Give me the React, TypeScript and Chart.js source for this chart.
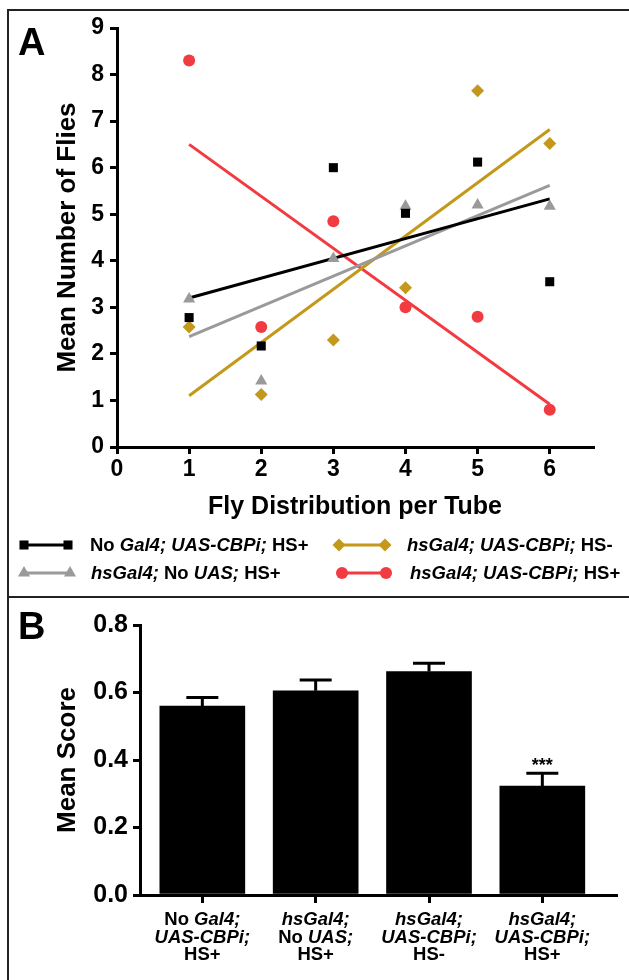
import React, { useEffect, useRef } from "react";
import { Chart, registerables } from "chart.js";

Chart.register(...registerables);

const FONT = '"Liberation Sans", Arial, Helvetica, sans-serif';
const BLACK = "#000000";
const GRAY = "#9a9a9a";
const GOLD = "#c4981b";
const RED = "#f23a41";

// ---------- Panel A data ----------
const tubePositions = [1, 2, 3, 4, 5, 6];
const noGal4Means = [2.78, 2.17, 6.0, 5.02, 6.12, 3.55];
const noUasMeans = [3.18, 1.42, 4.05, 5.17, 5.2, 5.17];
const hsMinusMeans = [2.58, 1.13, 2.3, 3.42, 7.65, 6.52];
const hsPlusMeans = [8.3, 2.58, 4.85, 3.0, 2.8, 0.8];
const fitPositions = [1, 6];
const noGal4Fit = [3.2, 5.33];
const noUasFit = [2.37, 5.62];
const hsMinusFit = [1.1, 6.82];
const hsPlusFit = [6.5, 0.92];
const xTicksA = [0, 1, 2, 3, 4, 5, 6];
const yTicksA = [0, 1, 2, 3, 4, 5, 6, 7, 8, 9];

type Seg = [string, boolean];
const legendNoGal4: Seg[] = [["No ", false], ["Gal4; UAS-CBPi;", true], [" HS+", false]];
const legendNoUas: Seg[] = [["hsGal4;", true], [" No ", false], ["UAS;", true], [" HS+", false]];
const legendHsMinus: Seg[] = [["hsGal4; UAS-CBPi;", true], [" HS-", false]];
const legendHsPlus: Seg[] = [["hsGal4; UAS-CBPi;", true], [" HS+", false]];

// ---------- Panel B data ----------
const barPositions = [0, 1, 2, 3];
const barMeans = [0.56, 0.605, 0.662, 0.323];
const barSems = [0.025, 0.032, 0.025, 0.038];
const yTicksB = [0, 0.2, 0.4, 0.6, 0.8];
const barCategories: Seg[][][] = [
  [[["No ", false], ["Gal4;", true]], [["UAS-CBPi;", true]], [["HS+", false]]],
  [[["hsGal4;", true]], [["No ", false], ["UAS;", true]], [["HS+", false]]],
  [[["hsGal4;", true]], [["UAS-CBPi;", true]], [["HS-", false]]],
  [[["hsGal4;", true]], [["UAS-CBPi;", true]], [["HS+", false]]],
];
const significance = ["", "", "", "***"];

const seriesA = [
  { values: noGal4Means, fit: noGal4Fit, color: BLACK, style: "rect", radius: 6.4, legend: legendNoGal4 },
  { values: noUasMeans, fit: noUasFit, color: GRAY, style: "triangle", radius: 7, legend: legendNoUas },
  { values: hsMinusMeans, fit: hsMinusFit, color: GOLD, style: "rectRot", radius: 6.5, legend: legendHsMinus },
  { values: hsPlusMeans, fit: hsPlusFit, color: RED, style: "circle", radius: 6, legend: legendHsPlus },
];

const legendLayout = [
  { x1: 24, x2: 68, tx: 90, y: 545 },
  { x1: 24, x2: 70, tx: 91, y: 573 },
  { x1: 339, x2: 385, tx: 407, y: 545 },
  { x1: 342, x2: 386, tx: 410, y: 573 },
];

function drawRich(ctx: CanvasRenderingContext2D, segs: Seg[], x: number, y: number, size: number, align: "left" | "center") {
  const fontOf = (it: boolean) => `${it ? "italic " : ""}bold ${size}px ${FONT}`;
  let total = 0;
  for (const [t, it] of segs) {
    ctx.font = fontOf(it);
    total += ctx.measureText(t).width;
  }
  let cx = align === "center" ? x - total / 2 : x;
  ctx.textAlign = "left";
  ctx.textBaseline = "alphabetic";
  for (const [t, it] of segs) {
    ctx.font = fontOf(it);
    ctx.fillText(t, cx, y);
    cx += ctx.measureText(t).width;
  }
}

function drawMarker(ctx: CanvasRenderingContext2D, style: string, x: number, y: number, r: number, color: string) {
  ctx.fillStyle = color;
  ctx.beginPath();
  if (style === "rect") {
    const s = r * Math.SQRT1_2;
    ctx.rect(x - s, y - s, 2 * s, 2 * s);
  } else if (style === "circle") {
    ctx.arc(x, y, r, 0, Math.PI * 2);
  } else if (style === "triangle") {
    let a = 0;
    ctx.moveTo(x + Math.sin(a) * r, y - Math.cos(a) * r);
    a += (Math.PI * 2) / 3;
    ctx.lineTo(x + Math.sin(a) * r, y - Math.cos(a) * r);
    a += (Math.PI * 2) / 3;
    ctx.lineTo(x + Math.sin(a) * r, y - Math.cos(a) * r);
    ctx.closePath();
  } else if (style === "rectRot") {
    ctx.moveTo(x, y - r);
    ctx.lineTo(x + r, y);
    ctx.lineTo(x, y + r);
    ctx.lineTo(x - r, y);
    ctx.closePath();
  }
  ctx.fill();
}

const axisGrid = {
  display: true,
  drawOnChartArea: false,
  drawTicks: true,
  offset: false,
  tickLength: 7,
  lineWidth: 3,
  color: BLACK,
};
const axisBorder = { display: true, width: 3, color: BLACK };
const tickFontA = { family: FONT, size: 23, weight: "bold" as const };
const tickFontB = { family: FONT, size: 25, weight: "bold" as const };

const panelAPlugin = {
  id: "panelA",
  afterDraw(chart: any) {
    const ctx: CanvasRenderingContext2D = chart.ctx;
    const area = chart.chartArea;
    ctx.save();
    ctx.fillStyle = BLACK;
    ctx.font = `bold 38px ${FONT}`;
    ctx.textAlign = "left";
    ctx.textBaseline = "alphabetic";
    ctx.fillText("A", 18, 55);

    ctx.font = `bold 26px ${FONT}`;
    ctx.save();
    ctx.translate(75, (area.top + area.bottom) / 2);
    ctx.rotate(-Math.PI / 2);
    ctx.textAlign = "center";
    ctx.fillText("Mean Number of Flies", 0, 0);
    ctx.restore();

    ctx.font = `bold 25px ${FONT}`;
    ctx.textAlign = "center";
    ctx.fillText("Fly Distribution per Tube", (area.left + area.right) / 2, 514);

    seriesA.forEach((s, i) => {
      const L = legendLayout[i];
      ctx.strokeStyle = s.color;
      ctx.lineWidth = 3;
      ctx.beginPath();
      ctx.moveTo(L.x1, L.y);
      ctx.lineTo(L.x2, L.y);
      ctx.stroke();
      drawMarker(ctx, s.style, L.x1, L.y, s.radius, s.color);
      drawMarker(ctx, s.style, L.x2, L.y, s.radius, s.color);
      ctx.fillStyle = BLACK;
      drawRich(ctx, s.legend, L.tx, L.y + 6, 18.5, "left");
    });
    ctx.restore();
  },
};

const panelBPlugin = {
  id: "panelB",
  afterDatasetsDraw(chart: any) {
    const ctx: CanvasRenderingContext2D = chart.ctx;
    const xs = chart.scales.x;
    const ys = chart.scales.y;
    ctx.save();
    ctx.strokeStyle = BLACK;
    ctx.lineWidth = 3;
    barPositions.forEach((p, i) => {
      const x = xs.getPixelForValue(p);
      const y0 = ys.getPixelForValue(barMeans[i]);
      const y1 = ys.getPixelForValue(barMeans[i] + barSems[i]);
      ctx.beginPath();
      ctx.moveTo(x, y0);
      ctx.lineTo(x, y1);
      ctx.moveTo(x - 16, y1);
      ctx.lineTo(x + 16, y1);
      ctx.stroke();
      if (significance[i]) {
        ctx.fillStyle = BLACK;
        ctx.font = `bold 18px ${FONT}`;
        ctx.textAlign = "center";
        ctx.textBaseline = "alphabetic";
        ctx.fillText(significance[i], x, y1 - 2);
      }
    });
    ctx.restore();
  },
  afterDraw(chart: any) {
    const ctx: CanvasRenderingContext2D = chart.ctx;
    const area = chart.chartArea;
    const xs = chart.scales.x;
    ctx.save();
    ctx.fillStyle = BLACK;
    ctx.font = `bold 38px ${FONT}`;
    ctx.textAlign = "left";
    ctx.textBaseline = "alphabetic";
    ctx.fillText("B", 18, 42);

    ctx.font = `bold 26px ${FONT}`;
    ctx.save();
    ctx.translate(75, (area.top + area.bottom) / 2);
    ctx.rotate(-Math.PI / 2);
    ctx.textAlign = "center";
    ctx.fillText("Mean Score", 0, 0);
    ctx.restore();

    barPositions.forEach((p, i) => {
      const x = xs.getPixelForValue(p);
      barCategories[i].forEach((line, j) => {
        drawRich(ctx, line, x, area.bottom + 30 + j * 17.5, 18.5, "center");
      });
    });
    ctx.restore();
  },
};

function PanelA() {
  const ref = useRef<HTMLCanvasElement>(null);
  useEffect(() => {
    const pointSets = seriesA.map((s) => ({
      data: tubePositions.map((x, i) => ({ x, y: s.values[i] })),
      pointStyle: s.style,
      pointRadius: s.radius,
      pointBackgroundColor: s.color,
      pointBorderColor: s.color,
      pointBorderWidth: 0,
      showLine: false,
    }));
    const fitSets = seriesA.map((s) => ({
      data: fitPositions.map((x, i) => ({ x, y: s.fit[i] })),
      borderColor: s.color,
      borderWidth: 3,
      pointRadius: 0,
      showLine: true,
      fill: false,
    }));
    const chart = new Chart(ref.current!, {
      type: "scatter",
      data: { datasets: [...pointSets, ...fitSets] as any },
      options: {
        responsive: false,
        animation: false,
        layout: { padding: { left: 0, top: 28, right: 36, bottom: 0 } },
        plugins: { legend: { display: false }, tooltip: { enabled: false } },
        scales: {
          x: {
            type: "linear",
            min: 0,
            max: 6.6,
            afterFit: (s: any) => {
              s.height = 150;
            },
            afterBuildTicks: (s: any) => {
              s.ticks = xTicksA.map((v) => ({ value: v }));
            },
            grid: axisGrid,
            border: axisBorder,
            ticks: { color: BLACK, font: tickFontA, padding: 2, maxRotation: 0, autoSkip: false },
          },
          y: {
            type: "linear",
            min: 0,
            max: 9,
            afterFit: (s: any) => {
              s.width = 117;
            },
            afterBuildTicks: (s: any) => {
              s.ticks = yTicksA.map((v) => ({ value: v }));
            },
            grid: axisGrid,
            border: axisBorder,
            ticks: { color: BLACK, font: tickFontA, padding: 6, autoSkip: false },
          },
        },
      } as any,
      plugins: [panelAPlugin],
    });
    return () => chart.destroy();
  }, []);
  return (
    <canvas
      ref={ref}
      width={629}
      height={597}
      style={{ position: "absolute", left: 0, top: 0, width: 629, height: 597 }}
    />
  );
}

function PanelB() {
  const ref = useRef<HTMLCanvasElement>(null);
  useEffect(() => {
    const chart = new Chart(ref.current!, {
      type: "bar",
      data: {
        datasets: [
          {
            data: barPositions.map((x, i) => ({ x, y: barMeans[i] })),
            backgroundColor: BLACK,
            borderWidth: 0,
            barThickness: 85,
          },
        ] as any,
      },
      options: {
        responsive: false,
        animation: false,
        layout: { padding: { left: 0, top: 28, right: 13, bottom: 0 } },
        plugins: { legend: { display: false }, tooltip: { enabled: false } },
        scales: {
          x: {
            type: "linear",
            min: -0.55,
            max: 3.65,
            offset: false,
            afterFit: (s: any) => {
              s.height = 85;
            },
            afterBuildTicks: (s: any) => {
              s.ticks = barPositions.map((v) => ({ value: v }));
            },
            grid: { ...axisGrid, tickLength: 8 },
            border: axisBorder,
            ticks: { display: true, callback: () => "", autoSkip: false },
          },
          y: {
            type: "linear",
            min: 0,
            max: 0.8,
            afterFit: (s: any) => {
              s.width = 140;
            },
            afterBuildTicks: (s: any) => {
              s.ticks = yTicksB.map((v) => ({ value: v }));
            },
            grid: axisGrid,
            border: axisBorder,
            ticks: {
              color: BLACK,
              font: tickFontB,
              padding: 5,
              autoSkip: false,
              callback: (v: any) => Number(v).toFixed(1),
            },
          },
        },
      } as any,
      plugins: [panelBPlugin],
    });
    return () => chart.destroy();
  }, []);
  return (
    <canvas
      ref={ref}
      width={629}
      height={383}
      style={{ position: "absolute", left: 0, top: 597, width: 629, height: 383 }}
    />
  );
}

export default function App() {
  return (
    <div
      style={{
        position: "absolute",
        left: 0,
        top: 0,
        width: 629,
        height: 980,
        background: "#ffffff",
        overflow: "hidden",
      }}
    >
      <PanelA />
      <PanelB />
      <div style={{ position: "absolute", left: 7, top: 9, width: 622, height: 2, background: "#222" }} />
      <div style={{ position: "absolute", left: 7, top: 9, width: 2, height: 971, background: "#222" }} />
      <div style={{ position: "absolute", left: 7, top: 596, width: 622, height: 2, background: "#222" }} />
    </div>
  );
}
